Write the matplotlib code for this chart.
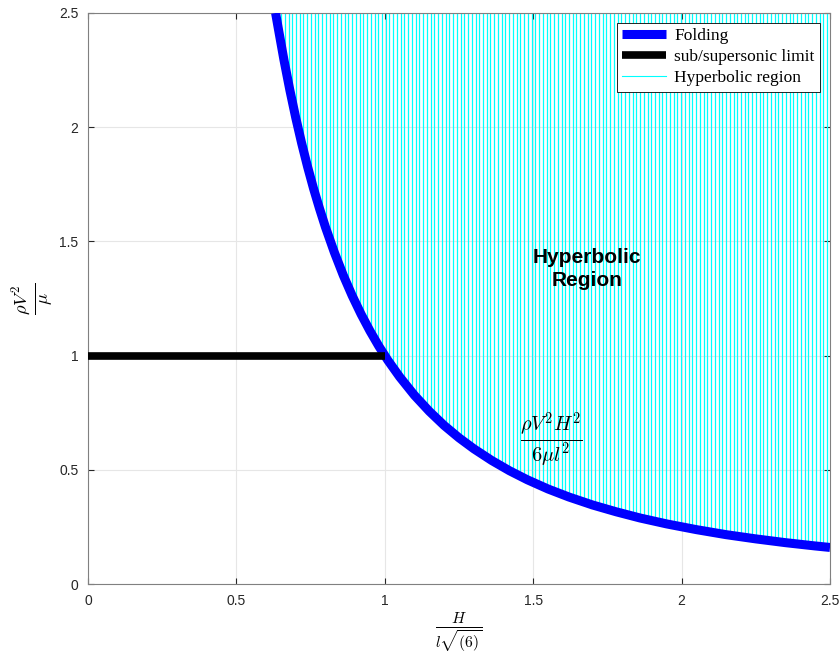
import matplotlib
matplotlib.use("Agg")
import matplotlib.pyplot as plt
import numpy as np

plt.rcParams["mathtext.fontset"] = "cm"

# folding curve
fold_x = [0.632, 0.64, 0.66, 0.68, 0.70, 0.72, 0.74, 0.76, 0.78, 0.80, 0.83,
          0.86, 0.89, 0.92, 0.95, 0.98, 1.01, 1.05, 1.10, 1.15, 1.20, 1.25,
          1.30, 1.36, 1.42, 1.48, 1.55, 1.62, 1.70, 1.78, 1.86, 1.95, 2.05,
          2.15, 2.25, 2.35, 2.45, 2.50]
fold_y = [2.50, 2.441, 2.296, 2.163, 2.041, 1.929, 1.826, 1.731, 1.644, 1.5625,
          1.452, 1.352, 1.2625, 1.1815, 1.108, 1.041, 0.980, 0.907, 0.826,
          0.756, 0.694, 0.640, 0.592, 0.541, 0.496, 0.4565, 0.416, 0.381,
          0.346, 0.316, 0.289, 0.263, 0.238, 0.216, 0.1975, 0.181, 0.1666,
          0.160]

# sub/supersonic limit
limit_x = [0, 1]
limit_y = [1, 1]

y_top = 2.5
ticks = [0, 0.5, 1, 1.5, 2, 2.5]
tick_labels = ["0", "0.5", "1", "1.5", "2", "2.5"]

fig = plt.figure(figsize=(8.4, 6.57), dpi=100)
ax = fig.add_axes([88 / 840, 73 / 657, 742 / 840, 571 / 657])

# hyperbolic region: vertical lines clipped to the area above the curve
region = ax.fill_between(fold_x, fold_y, y_top, facecolor="none", edgecolor="none")
hatch_x = np.arange(0.6, 2.51, 0.0126)
vl = ax.vlines(hatch_x, 0, y_top, colors="#00ffff", linewidth=0.9, zorder=1)
vl.set_clip_path(region.get_paths()[0], ax.transData)
ax.plot([], [], color="#00ffff", linewidth=0.8, label="Hyperbolic region")

ax.plot(fold_x, fold_y, color="blue", linewidth=6.5, zorder=3,
        solid_capstyle="butt", label="Folding")
ax.plot(limit_x, limit_y, color="black", linewidth=5.5, zorder=3,
        solid_capstyle="butt", label="sub/supersonic limit")

ax.text(1.68, 1.38, "Hyperbolic\nRegion", ha="center", va="center",
        fontsize=15, fontweight="bold", family="Liberation Sans",
        linespacing=1.25)
ax.text(1.56, 0.63, r"$\frac{\rho V^2 H^2}{6\mu l^2}$", ha="center",
        va="center", fontsize=21)

ax.set_xlim(0, 2.5)
ax.set_ylim(0, 2.5)
ax.set_xticks(ticks)
ax.set_xticklabels(tick_labels)
ax.set_yticks(ticks)
ax.set_yticklabels(tick_labels)
ax.tick_params(direction="in", length=4, labelsize=10, colors="#262626",
               pad=7, top=True, right=True)
for lbl in ax.get_xticklabels() + ax.get_yticklabels():
    lbl.set_family("Liberation Sans")
ax.grid(True, color="#e6e6e6", linewidth=0.8)
ax.set_axisbelow(True)
for s in ax.spines.values():
    s.set_color("#808080")
    s.set_linewidth(0.8)

ax.set_xlabel(r"$\frac{H}{l\sqrt{(6)}}$", fontsize=16, labelpad=2)
ax.set_ylabel(r"$\frac{\rho V^2}{\mu}$", fontsize=19, labelpad=2)

handles, labels = ax.get_legend_handles_labels()
order = [1, 2, 0]
leg = ax.legend([handles[i] for i in order], [labels[i] for i in order],
                loc="upper right", fancybox=False, edgecolor="black",
                prop={"family": "Liberation Serif", "size": 12.5},
                handlelength=2.5, handletextpad=0.5, labelspacing=0.28,
                borderpad=0.3, borderaxespad=0.58, framealpha=1)
leg.get_frame().set_linewidth(0.6)

fig.savefig("out.png", dpi=100)
